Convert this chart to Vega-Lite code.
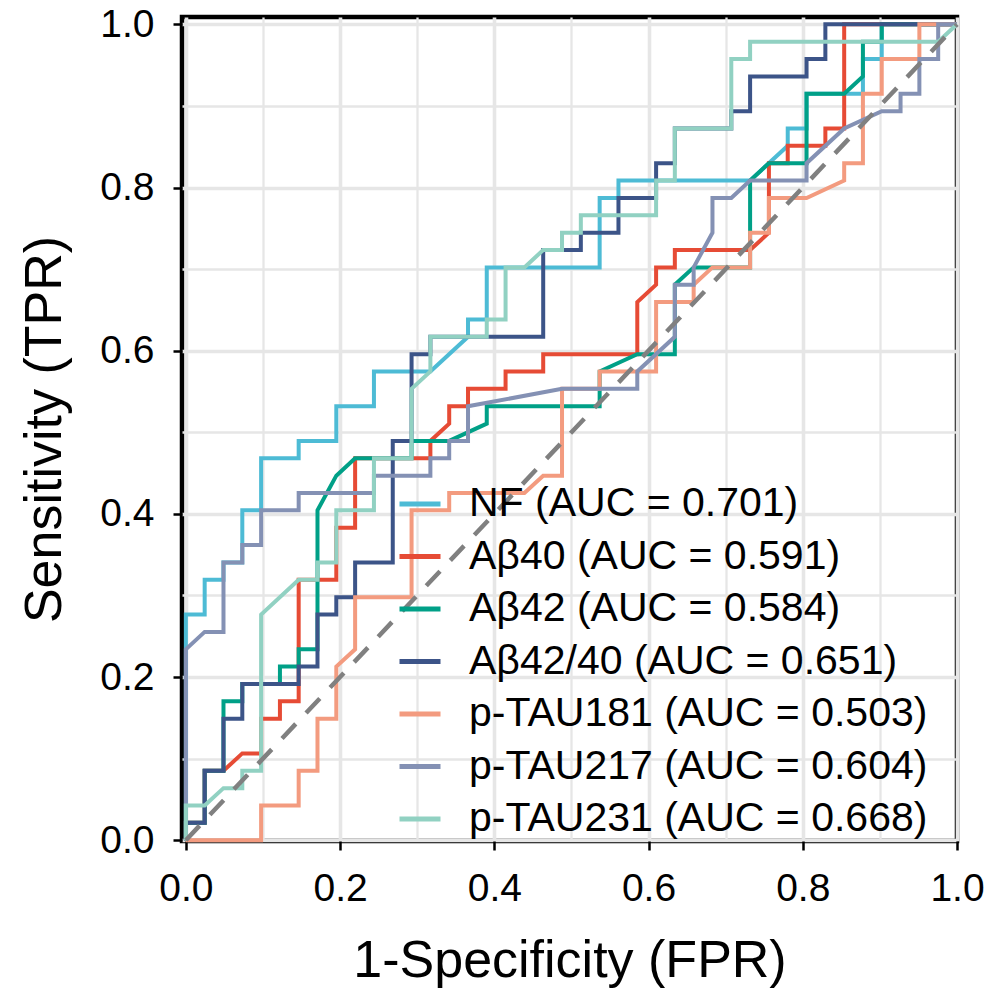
{
  "$schema": "https://vega.github.io/schema/vega-lite/v6.json",
  "autosize": {"type": "none"},
  "padding": {"left": 182, "top": 17, "right": 43, "bottom": 156},
  "width": 775,
  "height": 824,
  "background": "white",
  "config": {
    "view": {"stroke": "black", "strokeWidth": 4.5},
    "font": "Liberation Sans",
    "axis": {"labelFont": "Liberation Sans", "titleFont": "Liberation Sans", "labelColor": "black", "titleColor": "black", "domain": false, "tickColor": "black", "gridColor": "#E6E6E6", "titleFontWeight": "normal", "labelFlush": false, "labelOverlap": false}
  },
  "datasets": {
    "roc": [
      {"s":"NF (AUC = 0.701)","i":0,"x":0,"y":0},
      {"s":"NF (AUC = 0.701)","i":1,"x":0,"y":0.2766},
      {"s":"NF (AUC = 0.701)","i":2,"x":0.0244,"y":0.2766},
      {"s":"NF (AUC = 0.701)","i":3,"x":0.0244,"y":0.3191},
      {"s":"NF (AUC = 0.701)","i":4,"x":0.0488,"y":0.3191},
      {"s":"NF (AUC = 0.701)","i":5,"x":0.0488,"y":0.3404},
      {"s":"NF (AUC = 0.701)","i":6,"x":0.0732,"y":0.3404},
      {"s":"NF (AUC = 0.701)","i":7,"x":0.0732,"y":0.4043},
      {"s":"NF (AUC = 0.701)","i":8,"x":0.0976,"y":0.4043},
      {"s":"NF (AUC = 0.701)","i":9,"x":0.0976,"y":0.4681},
      {"s":"NF (AUC = 0.701)","i":10,"x":0.1463,"y":0.4681},
      {"s":"NF (AUC = 0.701)","i":11,"x":0.1463,"y":0.4894},
      {"s":"NF (AUC = 0.701)","i":12,"x":0.1951,"y":0.4894},
      {"s":"NF (AUC = 0.701)","i":13,"x":0.1951,"y":0.5319},
      {"s":"NF (AUC = 0.701)","i":14,"x":0.2439,"y":0.5319},
      {"s":"NF (AUC = 0.701)","i":15,"x":0.2439,"y":0.5745},
      {"s":"NF (AUC = 0.701)","i":16,"x":0.3171,"y":0.5745},
      {"s":"NF (AUC = 0.701)","i":17,"x":0.3659,"y":0.6170},
      {"s":"NF (AUC = 0.701)","i":18,"x":0.3659,"y":0.6383},
      {"s":"NF (AUC = 0.701)","i":19,"x":0.3902,"y":0.6383},
      {"s":"NF (AUC = 0.701)","i":20,"x":0.3902,"y":0.7021},
      {"s":"NF (AUC = 0.701)","i":21,"x":0.5366,"y":0.7021},
      {"s":"NF (AUC = 0.701)","i":22,"x":0.5366,"y":0.7872},
      {"s":"NF (AUC = 0.701)","i":23,"x":0.5610,"y":0.7872},
      {"s":"NF (AUC = 0.701)","i":24,"x":0.5610,"y":0.8085},
      {"s":"NF (AUC = 0.701)","i":25,"x":0.7317,"y":0.8085},
      {"s":"NF (AUC = 0.701)","i":26,"x":0.7805,"y":0.8511},
      {"s":"NF (AUC = 0.701)","i":27,"x":0.7805,"y":0.8723},
      {"s":"NF (AUC = 0.701)","i":28,"x":0.8049,"y":0.8723},
      {"s":"NF (AUC = 0.701)","i":29,"x":0.8049,"y":0.9149},
      {"s":"NF (AUC = 0.701)","i":30,"x":0.8780,"y":0.9149},
      {"s":"NF (AUC = 0.701)","i":31,"x":0.8780,"y":0.9574},
      {"s":"NF (AUC = 0.701)","i":32,"x":0.9024,"y":0.9574},
      {"s":"NF (AUC = 0.701)","i":33,"x":0.9024,"y":1},
      {"s":"NF (AUC = 0.701)","i":34,"x":1,"y":1},

      {"s":"Aβ40 (AUC = 0.591)","i":0,"x":0,"y":0},
      {"s":"Aβ40 (AUC = 0.591)","i":1,"x":0,"y":0.0213},
      {"s":"Aβ40 (AUC = 0.591)","i":2,"x":0.0244,"y":0.0213},
      {"s":"Aβ40 (AUC = 0.591)","i":3,"x":0.0244,"y":0.0851},
      {"s":"Aβ40 (AUC = 0.591)","i":4,"x":0.0488,"y":0.0851},
      {"s":"Aβ40 (AUC = 0.591)","i":5,"x":0.0732,"y":0.1064},
      {"s":"Aβ40 (AUC = 0.591)","i":6,"x":0.0976,"y":0.1064},
      {"s":"Aβ40 (AUC = 0.591)","i":7,"x":0.0976,"y":0.1489},
      {"s":"Aβ40 (AUC = 0.591)","i":8,"x":0.1220,"y":0.1489},
      {"s":"Aβ40 (AUC = 0.591)","i":9,"x":0.1220,"y":0.1702},
      {"s":"Aβ40 (AUC = 0.591)","i":10,"x":0.1463,"y":0.1702},
      {"s":"Aβ40 (AUC = 0.591)","i":11,"x":0.1463,"y":0.3191},
      {"s":"Aβ40 (AUC = 0.591)","i":12,"x":0.1951,"y":0.3191},
      {"s":"Aβ40 (AUC = 0.591)","i":13,"x":0.1951,"y":0.3830},
      {"s":"Aβ40 (AUC = 0.591)","i":14,"x":0.2195,"y":0.3830},
      {"s":"Aβ40 (AUC = 0.591)","i":15,"x":0.2195,"y":0.4681},
      {"s":"Aβ40 (AUC = 0.591)","i":16,"x":0.3171,"y":0.4681},
      {"s":"Aβ40 (AUC = 0.591)","i":17,"x":0.3171,"y":0.4894},
      {"s":"Aβ40 (AUC = 0.591)","i":18,"x":0.3415,"y":0.5106},
      {"s":"Aβ40 (AUC = 0.591)","i":19,"x":0.3415,"y":0.5319},
      {"s":"Aβ40 (AUC = 0.591)","i":20,"x":0.3659,"y":0.5319},
      {"s":"Aβ40 (AUC = 0.591)","i":21,"x":0.3659,"y":0.5532},
      {"s":"Aβ40 (AUC = 0.591)","i":22,"x":0.4146,"y":0.5532},
      {"s":"Aβ40 (AUC = 0.591)","i":23,"x":0.4146,"y":0.5745},
      {"s":"Aβ40 (AUC = 0.591)","i":24,"x":0.4634,"y":0.5745},
      {"s":"Aβ40 (AUC = 0.591)","i":25,"x":0.4634,"y":0.5957},
      {"s":"Aβ40 (AUC = 0.591)","i":26,"x":0.5854,"y":0.5957},
      {"s":"Aβ40 (AUC = 0.591)","i":27,"x":0.5854,"y":0.6596},
      {"s":"Aβ40 (AUC = 0.591)","i":28,"x":0.6098,"y":0.6809},
      {"s":"Aβ40 (AUC = 0.591)","i":29,"x":0.6098,"y":0.7021},
      {"s":"Aβ40 (AUC = 0.591)","i":30,"x":0.6341,"y":0.7021},
      {"s":"Aβ40 (AUC = 0.591)","i":31,"x":0.6341,"y":0.7234},
      {"s":"Aβ40 (AUC = 0.591)","i":32,"x":0.7317,"y":0.7234},
      {"s":"Aβ40 (AUC = 0.591)","i":33,"x":0.7561,"y":0.7447},
      {"s":"Aβ40 (AUC = 0.591)","i":34,"x":0.7561,"y":0.8298},
      {"s":"Aβ40 (AUC = 0.591)","i":35,"x":0.7805,"y":0.8298},
      {"s":"Aβ40 (AUC = 0.591)","i":36,"x":0.7805,"y":0.8511},
      {"s":"Aβ40 (AUC = 0.591)","i":37,"x":0.8293,"y":0.8511},
      {"s":"Aβ40 (AUC = 0.591)","i":38,"x":0.8293,"y":0.8723},
      {"s":"Aβ40 (AUC = 0.591)","i":39,"x":0.8537,"y":0.8723},
      {"s":"Aβ40 (AUC = 0.591)","i":40,"x":0.8537,"y":1},
      {"s":"Aβ40 (AUC = 0.591)","i":41,"x":1,"y":1},

      {"s":"Aβ42 (AUC = 0.584)","i":0,"x":0,"y":0},
      {"s":"Aβ42 (AUC = 0.584)","i":1,"x":0,"y":0.0213},
      {"s":"Aβ42 (AUC = 0.584)","i":2,"x":0.0244,"y":0.0213},
      {"s":"Aβ42 (AUC = 0.584)","i":3,"x":0.0244,"y":0.0851},
      {"s":"Aβ42 (AUC = 0.584)","i":4,"x":0.0488,"y":0.0851},
      {"s":"Aβ42 (AUC = 0.584)","i":5,"x":0.0488,"y":0.1702},
      {"s":"Aβ42 (AUC = 0.584)","i":6,"x":0.0732,"y":0.1702},
      {"s":"Aβ42 (AUC = 0.584)","i":7,"x":0.0732,"y":0.1915},
      {"s":"Aβ42 (AUC = 0.584)","i":8,"x":0.1220,"y":0.1915},
      {"s":"Aβ42 (AUC = 0.584)","i":9,"x":0.1220,"y":0.2128},
      {"s":"Aβ42 (AUC = 0.584)","i":10,"x":0.1463,"y":0.2128},
      {"s":"Aβ42 (AUC = 0.584)","i":11,"x":0.1463,"y":0.2340},
      {"s":"Aβ42 (AUC = 0.584)","i":12,"x":0.1707,"y":0.2340},
      {"s":"Aβ42 (AUC = 0.584)","i":13,"x":0.1707,"y":0.4043},
      {"s":"Aβ42 (AUC = 0.584)","i":14,"x":0.1951,"y":0.4468},
      {"s":"Aβ42 (AUC = 0.584)","i":15,"x":0.2195,"y":0.4681},
      {"s":"Aβ42 (AUC = 0.584)","i":16,"x":0.2927,"y":0.4681},
      {"s":"Aβ42 (AUC = 0.584)","i":17,"x":0.2927,"y":0.4894},
      {"s":"Aβ42 (AUC = 0.584)","i":18,"x":0.3415,"y":0.4894},
      {"s":"Aβ42 (AUC = 0.584)","i":19,"x":0.3902,"y":0.5106},
      {"s":"Aβ42 (AUC = 0.584)","i":20,"x":0.3902,"y":0.5319},
      {"s":"Aβ42 (AUC = 0.584)","i":21,"x":0.5366,"y":0.5319},
      {"s":"Aβ42 (AUC = 0.584)","i":22,"x":0.5366,"y":0.5745},
      {"s":"Aβ42 (AUC = 0.584)","i":23,"x":0.5854,"y":0.5957},
      {"s":"Aβ42 (AUC = 0.584)","i":24,"x":0.6341,"y":0.5957},
      {"s":"Aβ42 (AUC = 0.584)","i":25,"x":0.6341,"y":0.6809},
      {"s":"Aβ42 (AUC = 0.584)","i":26,"x":0.6585,"y":0.7021},
      {"s":"Aβ42 (AUC = 0.584)","i":27,"x":0.7317,"y":0.7021},
      {"s":"Aβ42 (AUC = 0.584)","i":28,"x":0.7317,"y":0.8085},
      {"s":"Aβ42 (AUC = 0.584)","i":29,"x":0.7561,"y":0.8298},
      {"s":"Aβ42 (AUC = 0.584)","i":30,"x":0.8049,"y":0.8298},
      {"s":"Aβ42 (AUC = 0.584)","i":31,"x":0.8049,"y":0.9149},
      {"s":"Aβ42 (AUC = 0.584)","i":32,"x":0.8537,"y":0.9149},
      {"s":"Aβ42 (AUC = 0.584)","i":33,"x":0.8780,"y":0.9362},
      {"s":"Aβ42 (AUC = 0.584)","i":34,"x":0.8780,"y":0.9787},
      {"s":"Aβ42 (AUC = 0.584)","i":35,"x":0.9024,"y":0.9787},
      {"s":"Aβ42 (AUC = 0.584)","i":36,"x":0.9024,"y":1},
      {"s":"Aβ42 (AUC = 0.584)","i":37,"x":1,"y":1},

      {"s":"Aβ42/40 (AUC = 0.651)","i":0,"x":0,"y":0},
      {"s":"Aβ42/40 (AUC = 0.651)","i":1,"x":0,"y":0.0213},
      {"s":"Aβ42/40 (AUC = 0.651)","i":2,"x":0.0244,"y":0.0213},
      {"s":"Aβ42/40 (AUC = 0.651)","i":3,"x":0.0244,"y":0.0851},
      {"s":"Aβ42/40 (AUC = 0.651)","i":4,"x":0.0488,"y":0.0851},
      {"s":"Aβ42/40 (AUC = 0.651)","i":5,"x":0.0488,"y":0.1489},
      {"s":"Aβ42/40 (AUC = 0.651)","i":6,"x":0.0732,"y":0.1489},
      {"s":"Aβ42/40 (AUC = 0.651)","i":7,"x":0.0732,"y":0.1915},
      {"s":"Aβ42/40 (AUC = 0.651)","i":8,"x":0.1463,"y":0.1915},
      {"s":"Aβ42/40 (AUC = 0.651)","i":9,"x":0.1463,"y":0.2128},
      {"s":"Aβ42/40 (AUC = 0.651)","i":10,"x":0.1707,"y":0.2128},
      {"s":"Aβ42/40 (AUC = 0.651)","i":11,"x":0.1707,"y":0.2766},
      {"s":"Aβ42/40 (AUC = 0.651)","i":12,"x":0.1951,"y":0.2766},
      {"s":"Aβ42/40 (AUC = 0.651)","i":13,"x":0.1951,"y":0.2979},
      {"s":"Aβ42/40 (AUC = 0.651)","i":14,"x":0.2195,"y":0.2979},
      {"s":"Aβ42/40 (AUC = 0.651)","i":15,"x":0.2195,"y":0.3404},
      {"s":"Aβ42/40 (AUC = 0.651)","i":16,"x":0.2683,"y":0.3404},
      {"s":"Aβ42/40 (AUC = 0.651)","i":17,"x":0.2683,"y":0.4894},
      {"s":"Aβ42/40 (AUC = 0.651)","i":18,"x":0.2927,"y":0.4894},
      {"s":"Aβ42/40 (AUC = 0.651)","i":19,"x":0.2927,"y":0.5957},
      {"s":"Aβ42/40 (AUC = 0.651)","i":20,"x":0.3171,"y":0.5957},
      {"s":"Aβ42/40 (AUC = 0.651)","i":21,"x":0.3171,"y":0.6170},
      {"s":"Aβ42/40 (AUC = 0.651)","i":22,"x":0.4634,"y":0.6170},
      {"s":"Aβ42/40 (AUC = 0.651)","i":23,"x":0.4634,"y":0.7234},
      {"s":"Aβ42/40 (AUC = 0.651)","i":24,"x":0.5122,"y":0.7234},
      {"s":"Aβ42/40 (AUC = 0.651)","i":25,"x":0.5122,"y":0.7447},
      {"s":"Aβ42/40 (AUC = 0.651)","i":26,"x":0.5610,"y":0.7447},
      {"s":"Aβ42/40 (AUC = 0.651)","i":27,"x":0.5610,"y":0.7872},
      {"s":"Aβ42/40 (AUC = 0.651)","i":28,"x":0.6098,"y":0.7872},
      {"s":"Aβ42/40 (AUC = 0.651)","i":29,"x":0.6098,"y":0.8298},
      {"s":"Aβ42/40 (AUC = 0.651)","i":30,"x":0.6341,"y":0.8298},
      {"s":"Aβ42/40 (AUC = 0.651)","i":31,"x":0.6341,"y":0.8723},
      {"s":"Aβ42/40 (AUC = 0.651)","i":32,"x":0.7073,"y":0.8723},
      {"s":"Aβ42/40 (AUC = 0.651)","i":33,"x":0.7073,"y":0.8936},
      {"s":"Aβ42/40 (AUC = 0.651)","i":34,"x":0.7317,"y":0.8936},
      {"s":"Aβ42/40 (AUC = 0.651)","i":35,"x":0.7317,"y":0.9362},
      {"s":"Aβ42/40 (AUC = 0.651)","i":36,"x":0.8049,"y":0.9362},
      {"s":"Aβ42/40 (AUC = 0.651)","i":37,"x":0.8049,"y":0.9574},
      {"s":"Aβ42/40 (AUC = 0.651)","i":38,"x":0.8293,"y":0.9574},
      {"s":"Aβ42/40 (AUC = 0.651)","i":39,"x":0.8293,"y":1},
      {"s":"Aβ42/40 (AUC = 0.651)","i":40,"x":1,"y":1},

      {"s":"p-TAU181 (AUC = 0.503)","i":0,"x":0,"y":0},
      {"s":"p-TAU181 (AUC = 0.503)","i":1,"x":0.0976,"y":0},
      {"s":"p-TAU181 (AUC = 0.503)","i":2,"x":0.0976,"y":0.0426},
      {"s":"p-TAU181 (AUC = 0.503)","i":3,"x":0.1463,"y":0.0426},
      {"s":"p-TAU181 (AUC = 0.503)","i":4,"x":0.1463,"y":0.0851},
      {"s":"p-TAU181 (AUC = 0.503)","i":5,"x":0.1707,"y":0.0851},
      {"s":"p-TAU181 (AUC = 0.503)","i":6,"x":0.1707,"y":0.1489},
      {"s":"p-TAU181 (AUC = 0.503)","i":7,"x":0.1951,"y":0.1489},
      {"s":"p-TAU181 (AUC = 0.503)","i":8,"x":0.1951,"y":0.2128},
      {"s":"p-TAU181 (AUC = 0.503)","i":9,"x":0.2195,"y":0.2340},
      {"s":"p-TAU181 (AUC = 0.503)","i":10,"x":0.2195,"y":0.2979},
      {"s":"p-TAU181 (AUC = 0.503)","i":11,"x":0.2927,"y":0.2979},
      {"s":"p-TAU181 (AUC = 0.503)","i":12,"x":0.2927,"y":0.4043},
      {"s":"p-TAU181 (AUC = 0.503)","i":13,"x":0.3415,"y":0.4043},
      {"s":"p-TAU181 (AUC = 0.503)","i":14,"x":0.3415,"y":0.4255},
      {"s":"p-TAU181 (AUC = 0.503)","i":15,"x":0.4390,"y":0.4255},
      {"s":"p-TAU181 (AUC = 0.503)","i":16,"x":0.4634,"y":0.4468},
      {"s":"p-TAU181 (AUC = 0.503)","i":17,"x":0.4878,"y":0.4468},
      {"s":"p-TAU181 (AUC = 0.503)","i":18,"x":0.4878,"y":0.5532},
      {"s":"p-TAU181 (AUC = 0.503)","i":19,"x":0.5366,"y":0.5532},
      {"s":"p-TAU181 (AUC = 0.503)","i":20,"x":0.5366,"y":0.5745},
      {"s":"p-TAU181 (AUC = 0.503)","i":21,"x":0.6098,"y":0.5745},
      {"s":"p-TAU181 (AUC = 0.503)","i":22,"x":0.6098,"y":0.6596},
      {"s":"p-TAU181 (AUC = 0.503)","i":23,"x":0.6585,"y":0.6596},
      {"s":"p-TAU181 (AUC = 0.503)","i":24,"x":0.6585,"y":0.6809},
      {"s":"p-TAU181 (AUC = 0.503)","i":25,"x":0.6829,"y":0.7021},
      {"s":"p-TAU181 (AUC = 0.503)","i":26,"x":0.7317,"y":0.7021},
      {"s":"p-TAU181 (AUC = 0.503)","i":27,"x":0.7317,"y":0.7447},
      {"s":"p-TAU181 (AUC = 0.503)","i":28,"x":0.7561,"y":0.7447},
      {"s":"p-TAU181 (AUC = 0.503)","i":29,"x":0.7561,"y":0.7872},
      {"s":"p-TAU181 (AUC = 0.503)","i":30,"x":0.8049,"y":0.7872},
      {"s":"p-TAU181 (AUC = 0.503)","i":31,"x":0.8537,"y":0.8085},
      {"s":"p-TAU181 (AUC = 0.503)","i":32,"x":0.8537,"y":0.8298},
      {"s":"p-TAU181 (AUC = 0.503)","i":33,"x":0.8780,"y":0.8298},
      {"s":"p-TAU181 (AUC = 0.503)","i":34,"x":0.8780,"y":0.9149},
      {"s":"p-TAU181 (AUC = 0.503)","i":35,"x":0.9024,"y":0.9149},
      {"s":"p-TAU181 (AUC = 0.503)","i":36,"x":0.9024,"y":0.9574},
      {"s":"p-TAU181 (AUC = 0.503)","i":37,"x":0.9512,"y":0.9574},
      {"s":"p-TAU181 (AUC = 0.503)","i":38,"x":0.9512,"y":1},
      {"s":"p-TAU181 (AUC = 0.503)","i":39,"x":1,"y":1},

      {"s":"p-TAU217 (AUC = 0.604)","i":0,"x":0,"y":0},
      {"s":"p-TAU217 (AUC = 0.604)","i":1,"x":0,"y":0.2340},
      {"s":"p-TAU217 (AUC = 0.604)","i":2,"x":0.0244,"y":0.2553},
      {"s":"p-TAU217 (AUC = 0.604)","i":3,"x":0.0488,"y":0.2553},
      {"s":"p-TAU217 (AUC = 0.604)","i":4,"x":0.0488,"y":0.3404},
      {"s":"p-TAU217 (AUC = 0.604)","i":5,"x":0.0732,"y":0.3404},
      {"s":"p-TAU217 (AUC = 0.604)","i":6,"x":0.0732,"y":0.3617},
      {"s":"p-TAU217 (AUC = 0.604)","i":7,"x":0.0976,"y":0.3617},
      {"s":"p-TAU217 (AUC = 0.604)","i":8,"x":0.0976,"y":0.4043},
      {"s":"p-TAU217 (AUC = 0.604)","i":9,"x":0.1463,"y":0.4043},
      {"s":"p-TAU217 (AUC = 0.604)","i":10,"x":0.1463,"y":0.4255},
      {"s":"p-TAU217 (AUC = 0.604)","i":11,"x":0.2439,"y":0.4255},
      {"s":"p-TAU217 (AUC = 0.604)","i":12,"x":0.2439,"y":0.4468},
      {"s":"p-TAU217 (AUC = 0.604)","i":13,"x":0.3171,"y":0.4468},
      {"s":"p-TAU217 (AUC = 0.604)","i":14,"x":0.3171,"y":0.4681},
      {"s":"p-TAU217 (AUC = 0.604)","i":15,"x":0.3415,"y":0.4681},
      {"s":"p-TAU217 (AUC = 0.604)","i":16,"x":0.3415,"y":0.4894},
      {"s":"p-TAU217 (AUC = 0.604)","i":17,"x":0.3659,"y":0.4894},
      {"s":"p-TAU217 (AUC = 0.604)","i":18,"x":0.3659,"y":0.5319},
      {"s":"p-TAU217 (AUC = 0.604)","i":19,"x":0.4878,"y":0.5532},
      {"s":"p-TAU217 (AUC = 0.604)","i":20,"x":0.5854,"y":0.5532},
      {"s":"p-TAU217 (AUC = 0.604)","i":21,"x":0.5854,"y":0.5745},
      {"s":"p-TAU217 (AUC = 0.604)","i":22,"x":0.6341,"y":0.6170},
      {"s":"p-TAU217 (AUC = 0.604)","i":23,"x":0.6341,"y":0.6809},
      {"s":"p-TAU217 (AUC = 0.604)","i":24,"x":0.6585,"y":0.6809},
      {"s":"p-TAU217 (AUC = 0.604)","i":25,"x":0.6585,"y":0.7021},
      {"s":"p-TAU217 (AUC = 0.604)","i":26,"x":0.6829,"y":0.7447},
      {"s":"p-TAU217 (AUC = 0.604)","i":27,"x":0.6829,"y":0.7872},
      {"s":"p-TAU217 (AUC = 0.604)","i":28,"x":0.7073,"y":0.7872},
      {"s":"p-TAU217 (AUC = 0.604)","i":29,"x":0.7317,"y":0.8085},
      {"s":"p-TAU217 (AUC = 0.604)","i":30,"x":0.8049,"y":0.8085},
      {"s":"p-TAU217 (AUC = 0.604)","i":31,"x":0.8049,"y":0.8298},
      {"s":"p-TAU217 (AUC = 0.604)","i":32,"x":0.8537,"y":0.8723},
      {"s":"p-TAU217 (AUC = 0.604)","i":33,"x":0.9024,"y":0.8936},
      {"s":"p-TAU217 (AUC = 0.604)","i":34,"x":0.9268,"y":0.8936},
      {"s":"p-TAU217 (AUC = 0.604)","i":35,"x":0.9268,"y":0.9149},
      {"s":"p-TAU217 (AUC = 0.604)","i":36,"x":0.9512,"y":0.9149},
      {"s":"p-TAU217 (AUC = 0.604)","i":37,"x":0.9512,"y":0.9574},
      {"s":"p-TAU217 (AUC = 0.604)","i":38,"x":0.9756,"y":0.9574},
      {"s":"p-TAU217 (AUC = 0.604)","i":39,"x":0.9756,"y":1},
      {"s":"p-TAU217 (AUC = 0.604)","i":40,"x":1,"y":1},

      {"s":"p-TAU231 (AUC = 0.668)","i":0,"x":0,"y":0},
      {"s":"p-TAU231 (AUC = 0.668)","i":1,"x":0,"y":0.0426},
      {"s":"p-TAU231 (AUC = 0.668)","i":2,"x":0.0244,"y":0.0426},
      {"s":"p-TAU231 (AUC = 0.668)","i":3,"x":0.0488,"y":0.0638},
      {"s":"p-TAU231 (AUC = 0.668)","i":4,"x":0.0732,"y":0.0638},
      {"s":"p-TAU231 (AUC = 0.668)","i":5,"x":0.0732,"y":0.0851},
      {"s":"p-TAU231 (AUC = 0.668)","i":6,"x":0.0976,"y":0.0851},
      {"s":"p-TAU231 (AUC = 0.668)","i":7,"x":0.0976,"y":0.2766},
      {"s":"p-TAU231 (AUC = 0.668)","i":8,"x":0.1463,"y":0.3191},
      {"s":"p-TAU231 (AUC = 0.668)","i":9,"x":0.1707,"y":0.3191},
      {"s":"p-TAU231 (AUC = 0.668)","i":10,"x":0.1707,"y":0.3404},
      {"s":"p-TAU231 (AUC = 0.668)","i":11,"x":0.1951,"y":0.3404},
      {"s":"p-TAU231 (AUC = 0.668)","i":12,"x":0.1951,"y":0.4043},
      {"s":"p-TAU231 (AUC = 0.668)","i":13,"x":0.2439,"y":0.4043},
      {"s":"p-TAU231 (AUC = 0.668)","i":14,"x":0.2439,"y":0.4681},
      {"s":"p-TAU231 (AUC = 0.668)","i":15,"x":0.2927,"y":0.4681},
      {"s":"p-TAU231 (AUC = 0.668)","i":16,"x":0.2927,"y":0.5532},
      {"s":"p-TAU231 (AUC = 0.668)","i":17,"x":0.3171,"y":0.5745},
      {"s":"p-TAU231 (AUC = 0.668)","i":18,"x":0.3171,"y":0.6170},
      {"s":"p-TAU231 (AUC = 0.668)","i":19,"x":0.3902,"y":0.6170},
      {"s":"p-TAU231 (AUC = 0.668)","i":20,"x":0.3902,"y":0.6383},
      {"s":"p-TAU231 (AUC = 0.668)","i":21,"x":0.4146,"y":0.6383},
      {"s":"p-TAU231 (AUC = 0.668)","i":22,"x":0.4146,"y":0.7021},
      {"s":"p-TAU231 (AUC = 0.668)","i":23,"x":0.4390,"y":0.7021},
      {"s":"p-TAU231 (AUC = 0.668)","i":24,"x":0.4634,"y":0.7234},
      {"s":"p-TAU231 (AUC = 0.668)","i":25,"x":0.4878,"y":0.7234},
      {"s":"p-TAU231 (AUC = 0.668)","i":26,"x":0.4878,"y":0.7447},
      {"s":"p-TAU231 (AUC = 0.668)","i":27,"x":0.5122,"y":0.7447},
      {"s":"p-TAU231 (AUC = 0.668)","i":28,"x":0.5122,"y":0.7660},
      {"s":"p-TAU231 (AUC = 0.668)","i":29,"x":0.6098,"y":0.7660},
      {"s":"p-TAU231 (AUC = 0.668)","i":30,"x":0.6098,"y":0.8085},
      {"s":"p-TAU231 (AUC = 0.668)","i":31,"x":0.6341,"y":0.8085},
      {"s":"p-TAU231 (AUC = 0.668)","i":32,"x":0.6341,"y":0.8723},
      {"s":"p-TAU231 (AUC = 0.668)","i":33,"x":0.7073,"y":0.8723},
      {"s":"p-TAU231 (AUC = 0.668)","i":34,"x":0.7073,"y":0.9574},
      {"s":"p-TAU231 (AUC = 0.668)","i":35,"x":0.7317,"y":0.9574},
      {"s":"p-TAU231 (AUC = 0.668)","i":36,"x":0.7317,"y":0.9787},
      {"s":"p-TAU231 (AUC = 0.668)","i":37,"x":0.9756,"y":0.9787},
      {"s":"p-TAU231 (AUC = 0.668)","i":38,"x":1,"y":1}
    ],
    "diag": [{"x": 0, "y": 0}, {"x": 1, "y": 1}]
  },
  "layer": [
    {
      "data": {"name": "roc"},
      "mark": {"type": "line", "strokeWidth": 4, "strokeJoin": "miter", "strokeCap": "butt"},
      "encoding": {
        "x": {
          "field": "x", "type": "quantitative",
          "scale": {"domain": [-0.005, 1.0], "nice": false, "zero": false},
          "axis": {
            "values": [0, 0.1, 0.2, 0.3, 0.4, 0.5, 0.6, 0.7, 0.8, 0.9, 1],
            "labelExpr": "round(datum.value*10)%2==0 ? format(datum.value,'.1f') : ''",
            "gridWidth": {"condition": {"test": "round(datum.value*10)%2==0", "value": 3.6}, "value": 2.3},
            "tickOpacity": {"condition": {"test": "round(datum.value*10)%2==0", "value": 1}, "value": 0},
            "tickSize": 9, "tickWidth": 2.5,
            "labelFontSize": 39, "labelPadding": 19,
            "title": "1-Specificity (FPR)", "titleFontSize": 52, "titlePadding": 27
          }
        },
        "y": {
          "field": "y", "type": "quantitative",
          "scale": {"domain": [-0.001, 1.009], "nice": false, "zero": false},
          "axis": {
            "values": [0, 0.1, 0.2, 0.3, 0.4, 0.5, 0.6, 0.7, 0.8, 0.9, 1],
            "labelExpr": "round(datum.value*10)%2==0 ? format(datum.value,'.1f') : ''",
            "gridWidth": {"condition": {"test": "round(datum.value*10)%2==0", "value": 3.6}, "value": 2.3},
            "tickOpacity": {"condition": {"test": "round(datum.value*10)%2==0", "value": 1}, "value": 0},
            "tickSize": 9, "tickWidth": 2.5,
            "labelFontSize": 39, "labelPadding": 19,
            "title": "Sensitivity (TPR)", "titleFontSize": 52, "titlePadding": 28
          }
        },
        "color": {
          "field": "s", "type": "nominal",
          "scale": {
            "domain": ["NF (AUC = 0.701)", "Aβ40 (AUC = 0.591)", "Aβ42 (AUC = 0.584)", "Aβ42/40 (AUC = 0.651)", "p-TAU181 (AUC = 0.503)", "p-TAU217 (AUC = 0.604)", "p-TAU231 (AUC = 0.668)"],
            "range": ["#4DBBD5", "#E64B35", "#00A087", "#3C5488", "#F39B7F", "#8491B4", "#91D1C2"]
          },
          "legend": {
            "orient": "none", "legendX": 215, "legendY": 464, "title": null,
            "symbolType": "stroke", "symbolSize": 1681, "symbolStrokeWidth": 5,
            "labelFontSize": 41, "labelFont": "Liberation Sans", "labelColor": "black",
            "labelOffset": 26, "rowPadding": 9.5, "labelLimit": 0, "padding": 0
          }
        },
        "order": {"field": "i", "type": "quantitative"}
      }
    },
    {
      "data": {"name": "diag"},
      "mark": {"type": "line", "color": "#808080", "strokeWidth": 4.5, "strokeDash": [20, 15], "strokeCap": "butt"},
      "encoding": {
        "x": {"field": "x", "type": "quantitative"},
        "y": {"field": "y", "type": "quantitative"}
      }
    }
  ]
}
